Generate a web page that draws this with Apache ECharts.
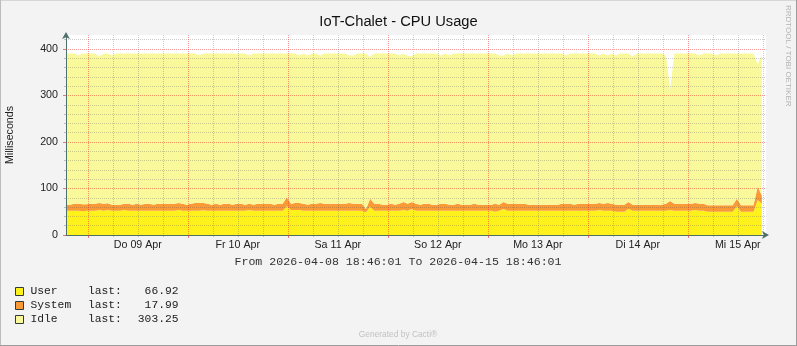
<!DOCTYPE html>
<html><head><meta charset="utf-8">
<script src="https://cdn.jsdelivr.net/npm/echarts@6/dist/echarts.min.js"></script>
<style>html,body{margin:0;padding:0;background:#F3F3F3}#c{width:797px;height:346px}</style>
</head><body><div id="c"></div>
<script>
// Time axis expressed in hours since 2026-04-08 00:00
const startHour = 18 + 46 / 60;            // 2026-04-08 18:46:01
const endHour = startHour + 168;           // 2026-04-15 18:46:01
const dayLabels = ['Do 09 Apr', 'Fr 10 Apr', 'Sa 11 Apr', 'So 12 Apr', 'Mo 13 Apr', 'Di 14 Apr', 'Mi 15 Apr'];
const dayLabelHours = [36, 60, 84, 108, 132, 156, 180];
const midnightHours = [24, 48, 72, 96, 120, 144, 168];
const sixHourHours = [30, 36, 42, 54, 60, 66, 78, 84, 90, 102, 108, 114, 126, 132, 138, 150, 156, 162, 174, 180, 186];
const yMajorTicks = [0, 100, 200, 300, 400];
const yMinorTicks = [20, 40, 60, 80, 120, 140, 160, 180, 220, 240, 260, 280, 320, 340, 360, 380, 420];

const seriesNames = ['User', 'System', 'Idle'];
// hourly values (ms), one per hour from the start time
const user = [
  52,52,52,52,51,52,52,52,54,52,54,52,
  52,52,54,52,52,52,52,52,52,52,52,52,
  52,52,52,54,52,52,52,52,52,53,52,52,
  52,52,52,52,52,52,52,52,54,52,52,52,
  52,52,52,52,52,62,54,54,54,52,52,52,
  52,52,52,52,52,52,52,52,52,52,52,52,
  49,61,52,52,52,52,52,52,52,54,52,56,
  52,52,52,52,52,52,52,52,52,52,52,52,
  52,52,52,52,52,52,52,50,52,56,52,52,
  52,52,52,52,52,52,52,52,52,52,52,52,
  52,52,52,52,52,52,52,52,54,52,52,52,
  50,50,50,56,52,52,52,52,52,52,52,52,
  52,54,52,52,52,52,52,54,52,52,50,50,
  50,50,50,50,50,62,50,50,50,50,75,66.92
];
const system = [
  13,13,15,15,15,14,15,15,15,15,14,13,
  13,13,13,15,13,15,13,15,15,13,15,15,
  15,15,15,15,15,13,15,17,17,16,15,13,
  15,13,15,15,13,15,15,13,13,13,15,15,
  15,15,13,15,15,19,13,15,15,15,13,15,
  15,17,15,15,15,15,15,15,17,15,15,15,
  7,17,15,15,13,13,15,13,15,17,15,15,
  15,13,15,15,13,13,15,15,13,13,15,13,
  13,13,15,13,13,13,13,17,13,15,15,15,
  15,15,15,13,13,13,13,13,13,13,13,15,
  15,15,13,15,15,15,15,15,15,15,17,15,
  15,15,15,15,13,13,13,13,13,13,13,13,
  15,19,15,15,15,15,15,15,15,15,14,14,
  14,14,14,14,14,16,14,14,14,14,29,17.99
];
const idle = [
  325,325,323,319,324,324,323,323,315,323,322,321,
  325,325,323,323,325,323,325,323,323,325,323,323,
  323,323,323,321,323,325,323,321,317,321,323,325,
  323,325,323,323,325,323,323,325,319,325,323,323,
  323,323,325,323,323,309,323,321,317,323,321,323,
  323,317,323,323,323,323,323,323,317,319,323,323,
  334,305,323,323,325,325,323,325,319,319,318,314,
  323,325,323,323,325,325,319,323,321,325,323,325,
  325,325,323,325,325,325,325,323,321,315,323,319,
  323,323,323,325,325,325,325,325,325,325,325,323,
  319,323,325,323,323,323,323,323,317,323,317,323,
  321,325,325,319,319,325,325,325,325,325,325,325,
  319,238,323,323,323,323,323,321,319,323,326,326,
  322,326,326,326,326,312,326,326,326,326,263,303.25
];
const seriesColors = ['#FFF21C', '#F99A36', '#F9F99C'];

// value first, hour second, so the library stacks the value dimension
const toPairs = arr => arr.map((v, i) => [v, startHour + i]);
const dataSets = [user, system, idle];

const chart = echarts.init(document.getElementById('c'), null, {renderer: 'canvas'});

const majorColor = 'rgba(235,25,25,0.45)';
const minorColor = 'rgba(90,90,90,0.30)';
const axisColor = '#50706A';
const sansFont = '"Liberation Sans", Arial, sans-serif';
const monoFont = '"Liberation Mono", "Courier New", monospace';

const legendGraphics = [];
seriesNames.forEach((name, k) => {
  const y0 = 287.5 + k * 14;
  const arr = dataSets[k];
  legendGraphics.push({
    type: 'rect', shape: {x: 15.5, y: y0, width: 8, height: 8},
    style: {fill: seriesColors[k], stroke: '#2E3B36', lineWidth: 1}
  });
  legendGraphics.push({
    type: 'text', x: 30.5, y: y0 + 3.5,
    style: {text: name, font: '11.3px ' + monoFont, fill: '#222', align: 'left', verticalAlign: 'middle', textAlign: 'left', textVerticalAlign: 'middle'}
  });
  legendGraphics.push({
    type: 'text', x: 88, y: y0 + 3.5,
    style: {text: 'last:', font: '11.3px ' + monoFont, fill: '#222', align: 'left', verticalAlign: 'middle', textAlign: 'left', textVerticalAlign: 'middle'}
  });
  legendGraphics.push({
    type: 'text', x: 178.5, y: y0 + 3.5,
    style: {text: arr[arr.length - 1].toFixed(2), font: '11.3px ' + monoFont, fill: '#222', align: 'right', verticalAlign: 'middle', textAlign: 'right', textVerticalAlign: 'middle'}
  });
});

const option = {
  animation: false,
  backgroundColor: '#F3F3F3',
  grid: {left: 66, right: 31, top: 35, bottom: 111, show: true, backgroundColor: '#FFFFFF', borderWidth: 0,
    containLabel: false, outerBoundsMode: 'none'},
  xAxis: [
    {
      type: 'value', min: startHour, max: endHour, z: 3,
      axisLine: {show: true, lineStyle: {color: axisColor, width: 1}, symbol: ['none', 'arrow'], symbolSize: [6, 7], symbolOffset: [0, 3]},
      axisTick: {show: true, customValues: midnightHours, length: 3, lineStyle: {color: 'rgba(220,40,40,0.6)'}},
      axisLabel: {show: true, customValues: dayLabelHours, margin: 5, color: '#222', fontFamily: sansFont, fontSize: 10.7,
        formatter: v => dayLabels[Math.round((v - dayLabelHours[0]) / 24)] || ''},
      splitLine: {show: true, lineStyle: {color: majorColor, type: [1, 1], width: 1}}
    },
    {
      type: 'value', min: startHour, max: endHour, z: 3, position: 'bottom',
      axisLine: {show: false},
      axisTick: {show: true, customValues: sixHourHours, length: 2, lineStyle: {color: 'rgba(90,90,90,0.35)'}},
      axisLabel: {show: false},
      splitLine: {show: true, lineStyle: {color: minorColor, type: [1, 1], width: 1}}
    }
  ],
  yAxis: [
    {
      type: 'value', min: 0, max: 430, z: 3,
      name: 'Milliseconds', nameLocation: 'middle', nameGap: 50, nameRotate: 90,
      nameTextStyle: {color: '#222', fontFamily: sansFont, fontSize: 10.7},
      axisLine: {show: true, lineStyle: {color: axisColor, width: 1}, symbol: ['none', 'arrow'], symbolSize: [6, 7], symbolOffset: [0, 3]},
      axisTick: {show: true, customValues: yMajorTicks, length: 3, lineStyle: {color: 'rgba(220,40,40,0.6)'}},
      axisLabel: {show: true, customValues: yMajorTicks, margin: 8, color: '#222', fontFamily: sansFont, fontSize: 10.7},
      splitLine: {show: true, lineStyle: {color: majorColor, type: [1, 1], width: 1}}
    },
    {
      type: 'value', min: 0, max: 430, z: 3, position: 'left',
      axisLine: {show: false},
      axisTick: {show: true, customValues: yMinorTicks, length: 2, lineStyle: {color: 'rgba(90,90,90,0.35)'}},
      axisLabel: {show: false},
      splitLine: {show: true, lineStyle: {color: minorColor, type: [1, 1], width: 1}}
    }
  ],
  series: seriesNames.map((name, k) => ({
    name, type: 'line', stack: 'cpu', xAxisIndex: 0, yAxisIndex: 0,
    data: toPairs(dataSets[k]), encode: {x: 1, y: 0},
    symbol: 'none', showSymbol: false, silent: true, z: 1,
    lineStyle: {width: 0}, areaStyle: {color: seriesColors[k], opacity: 1}
  })),
  graphic: [
    {type: 'line', shape: {x1: 0, y1: 0.5, x2: 797, y2: 0.5}, style: {stroke: '#D6D6D6', lineWidth: 1}},
    {type: 'line', shape: {x1: 0.5, y1: 0, x2: 0.5, y2: 346}, style: {stroke: '#BDBDBD', lineWidth: 1}},
    {type: 'line', shape: {x1: 796.5, y1: 0, x2: 796.5, y2: 346}, style: {stroke: '#9C9C9C', lineWidth: 1}},
    {type: 'line', shape: {x1: 0, y1: 345.5, x2: 797, y2: 345.5}, style: {stroke: '#9C9C9C', lineWidth: 1}},
    {type: 'text', x: 398.5, y: 22,
      style: {text: 'IoT-Chalet - CPU Usage', font: '14.7px ' + sansFont, fill: '#111', align: 'center', verticalAlign: 'middle', textAlign: 'center', textVerticalAlign: 'middle'}},
    {type: 'text', x: 398, y: 262,
      style: {text: 'From 2026-04-08 18:46:01 To 2026-04-15 18:46:01', font: '11.6px ' + monoFont, fill: '#333', align: 'center', verticalAlign: 'middle', textAlign: 'center', textVerticalAlign: 'middle'}},
    {type: 'text', x: 788, y: 5, rotation: -Math.PI / 2,
      style: {text: 'RRDTOOL / TOBI OETIKER', font: '8px ' + sansFont, fill: '#B4B4B4', align: 'left', verticalAlign: 'middle', textAlign: 'left', textVerticalAlign: 'middle'}},
    {type: 'text', x: 398, y: 335,
      style: {text: 'Generated by Cacti\u00AE', font: '8.4px ' + sansFont, fill: '#C2C2C2', align: 'center', verticalAlign: 'middle', textAlign: 'center', textVerticalAlign: 'middle'}}
  ].concat(legendGraphics)
};
chart.setOption(option);
</script>
</body></html>
